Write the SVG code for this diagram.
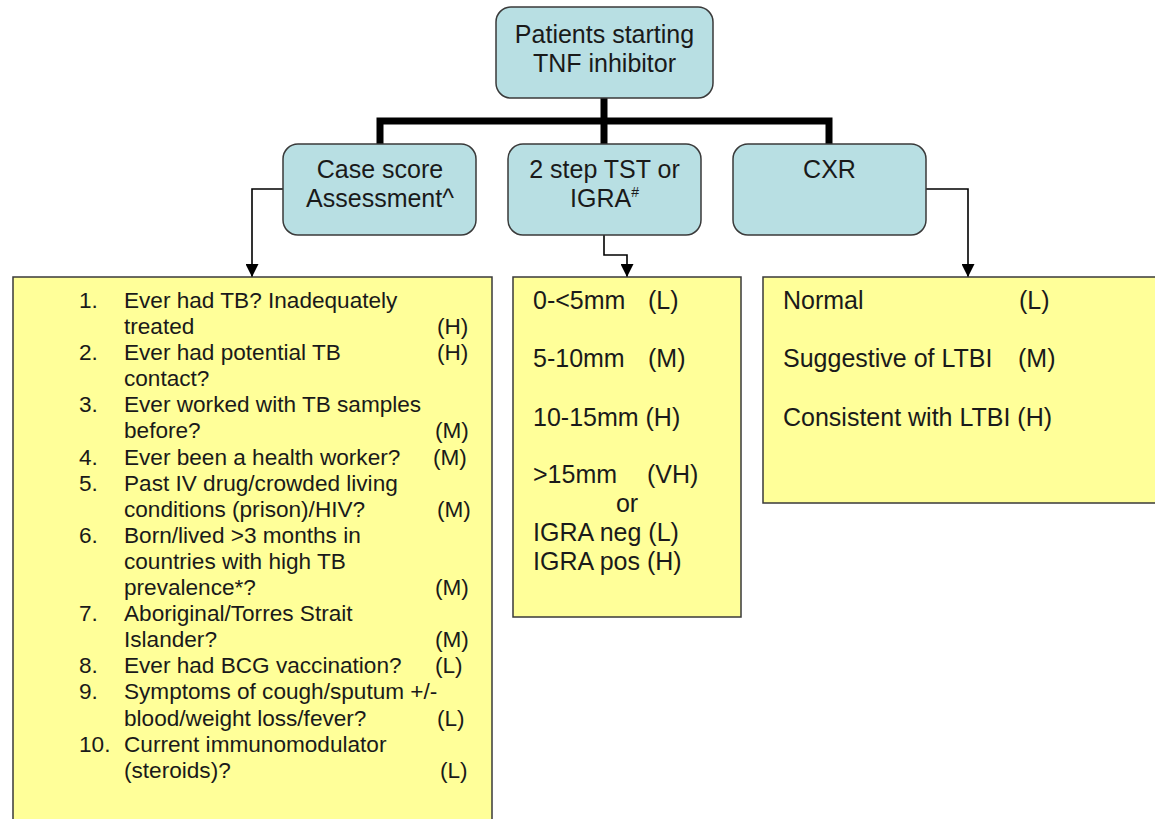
<svg xmlns="http://www.w3.org/2000/svg" width="1155" height="819" viewBox="0 0 1155 819">
<style>
  .blue { fill: #b8dfe3; stroke: #3a3a3a; stroke-width: 1.5; }
  .yel { fill: #ffff99; stroke: #3a3a3a; stroke-width: 1.5; }
  text { font-family: "Liberation Sans", Arial, sans-serif; fill: #1a1a1a; }
  .t24 { font-size: 25px; }
  .t22 { font-size: 22.6px; }
  .mid { text-anchor: middle; }
  .thick { fill: none; stroke: #000; stroke-width: 7; stroke-linejoin: miter; }
  .thin { fill: none; stroke: #000; stroke-width: 1.6; }
</style>
<defs>
  <marker id="arr" viewBox="0 0 10 10" refX="10" refY="5" markerWidth="13" markerHeight="13" markerUnits="userSpaceOnUse" orient="auto">
    <path d="M0,0 L10,5 L0,10 Z" fill="#000"/>
  </marker>
</defs>
<rect width="1155" height="819" fill="#fff"/>

<g id="connectors">
  <path class="thick" d="M604,98 V144"/>
  <path class="thick" d="M380,144 V121 H829 V144"/>
  <path class="thin" d="M283,189 H252 V277" marker-end="url(#arr)"/>
  <path class="thin" d="M604,235 V255 H627 V277" marker-end="url(#arr)"/>
  <path class="thin" d="M926,189 H968 V277" marker-end="url(#arr)"/>
</g>

<g id="node-top">
  <rect class="blue" x="496" y="7" width="217" height="91" rx="15"/>
  <text class="t24 mid" x="604.5" y="43">Patients starting</text>
  <text class="t24 mid" x="604.5" y="72">TNF inhibitor</text>
</g>

<g id="node-case">
  <rect class="blue" x="283" y="144" width="193" height="91" rx="15"/>
  <text class="t24 mid" x="380" y="178">Case score</text>
  <text class="t24 mid" x="380" y="207">Assessment^</text>
</g>

<g id="node-tst">
  <rect class="blue" x="508" y="144" width="193" height="91" rx="15"/>
  <text class="t24 mid" x="604.5" y="178">2 step TST or</text>
  <text class="t24 mid" x="604.5" y="207">IGRA<tspan font-size="14" dy="-10">#</tspan></text>
</g>

<g id="node-cxr">
  <rect class="blue" x="733" y="144" width="193" height="91" rx="15"/>
  <text class="t24 mid" x="829.5" y="178">CXR</text>
</g>

<g id="node-list">
  <rect class="yel" x="13" y="277" width="479" height="560"/>
  <g class="t22">
    <text x="79" y="308">1.</text><text x="124" y="308">Ever had TB? Inadequately</text>
    <text x="124" y="334">treated</text><text x="437" y="334">(H)</text>
    <text x="79" y="360">2.</text><text x="124" y="360">Ever had potential TB</text><text x="437" y="360">(H)</text>
    <text x="124" y="386">contact?</text>
    <text x="79" y="412">3.</text><text x="124" y="412">Ever worked with TB samples</text>
    <text x="124" y="438">before?</text><text x="435" y="438">(M)</text>
    <text x="79" y="465">4.</text><text x="124" y="465">Ever been a health worker?</text><text x="433" y="465">(M)</text>
    <text x="79" y="491">5.</text><text x="124" y="491">Past IV drug/crowded living</text>
    <text x="124" y="517">conditions (prison)/HIV?</text><text x="437" y="517">(M)</text>
    <text x="79" y="543">6.</text><text x="124" y="543">Born/lived &gt;3 months in</text>
    <text x="124" y="569">countries with high TB</text>
    <text x="124" y="595">prevalence*?</text><text x="435" y="595">(M)</text>
    <text x="79" y="621">7.</text><text x="124" y="621">Aboriginal/Torres Strait</text>
    <text x="124" y="647">Islander?</text><text x="435" y="647">(M)</text>
    <text x="79" y="673">8.</text><text x="124" y="673">Ever had BCG vaccination?</text><text x="435" y="673">(L)</text>
    <text x="79" y="699">9.</text><text x="124" y="699">Symptoms of cough/sputum +/-</text>
    <text x="124" y="726">blood/weight loss/fever?</text><text x="437" y="726">(L)</text>
    <text x="79" y="752">10.</text><text x="124" y="752">Current immunomodulator</text>
    <text x="124" y="778">(steroids)?</text><text x="440" y="778">(L)</text>
  </g>
</g>

<g id="node-tst-results">
  <rect class="yel" x="513" y="277" width="228" height="340"/>
  <g class="t24">
    <text x="533" y="309">0-&lt;5mm</text><text x="648" y="309">(L)</text>
    <text x="533" y="367">5-10mm</text><text x="648" y="367">(M)</text>
    <text x="533" y="426">10-15mm (H)</text>
    <text x="533" y="483">&gt;15mm</text><text x="647" y="483">(VH)</text>
    <text x="627" y="512" class="mid">or</text>
    <text x="533" y="541">IGRA neg (L)</text>
    <text x="533" y="570">IGRA pos (H)</text>
  </g>
</g>

<g id="node-cxr-results">
  <rect class="yel" x="763" y="277" width="400" height="226"/>
  <g class="t24">
    <text x="783" y="309">Normal</text><text x="1019" y="309">(L)</text>
    <text x="783" y="367">Suggestive of LTBI</text><text x="1018" y="367">(M)</text>
    <text x="783" y="426">Consistent with LTBI (H)</text>
  </g>
</g>
</svg>
